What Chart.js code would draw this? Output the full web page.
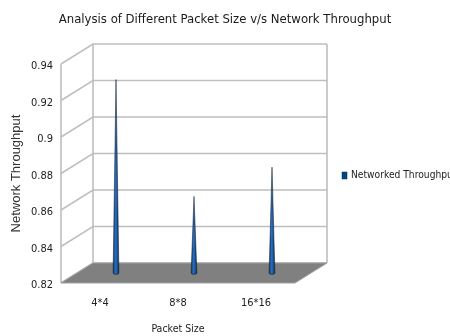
<!DOCTYPE html>
<html>
<head>
<meta charset="utf-8">
<script src="https://cdn.jsdelivr.net/npm/chart.js@4.4.0/dist/chart.umd.min.js"></script>
<style>
  html, body { margin: 0; padding: 0; background: #ffffff; }
  #wrap { width: 450px; height: 336px; }
</style>
</head>
<body>
<div id="wrap"><canvas id="c" width="450" height="336"></canvas></div>
<script>
// Packet sizes tested and the measured throughput for each
const categories = ['4*4', '8*8', '16*16'];
const throughput = [0.926, 0.862, 0.878];
const yTickValues = [0.82, 0.84, 0.86, 0.88, 0.9, 0.92, 0.94];
const yTickLabels = ['0.82', '0.84', '0.86', '0.88', '0.9', '0.92', '0.94'];
const seriesName = 'Networked Throughput';
const seriesColor = '#004586';

const narrow = "'DejaVu Sans Condensed', 'Liberation Sans', sans-serif";
const textColor = '#222222';

// depth offset of the back wall relative to the front plane
const DEPTH = { dx: 32, dy: -20 };

// Draws the pseudo-3D box (back wall, side-wall grid, floor) and cone-shaped bars
const cone3d = {
  id: 'cone3d',
  beforeDatasetsDraw(chart) {
    const { ctx, chartArea: a, scales: { y } } = chart;
    const { dx, dy } = DEPTH;
    ctx.save();
    ctx.fillStyle = '#ffffff';
    ctx.fillRect(a.left + dx, a.top + dy, a.right - a.left, a.bottom - a.top);

    ctx.strokeStyle = '#bfbfbf';
    ctx.lineWidth = 1.6;
    y.ticks.forEach(t => {
      const py = y.getPixelForValue(t.value);
      ctx.beginPath();
      ctx.moveTo(a.left, py);
      ctx.lineTo(a.left + dx, py + dy);
      ctx.lineTo(a.right + dx, py + dy);
      ctx.stroke();
    });
    ctx.beginPath();
    ctx.moveTo(a.left, a.top);
    ctx.lineTo(a.left, a.bottom);
    ctx.moveTo(a.left + dx, a.top + dy);
    ctx.lineTo(a.left + dx, a.bottom + dy);
    ctx.moveTo(a.right + dx, a.top + dy);
    ctx.lineTo(a.right + dx, a.bottom + dy);
    ctx.stroke();

    // floor
    ctx.beginPath();
    ctx.moveTo(a.left, a.bottom);
    ctx.lineTo(a.right, a.bottom);
    ctx.lineTo(a.right + dx, a.bottom + dy);
    ctx.lineTo(a.left + dx, a.bottom + dy);
    ctx.closePath();
    ctx.fillStyle = '#808080';
    ctx.fill();
    ctx.strokeStyle = '#a0a0a0';
    ctx.lineWidth = 1;
    ctx.stroke();
    ctx.restore();
  },
  beforeDatasetDraw(chart, args) {
    const { ctx, scales: { y } } = chart;
    const { dx, dy } = DEPTH;
    const floorPx = y.getPixelForValue(y.min);
    ctx.save();
    args.meta.data.forEach(el => {
      const cx = el.x + dx / 2;
      const tip = el.y + dy / 2;
      const base = floorPx + dy / 2;
      const r = 2.9;
      const g = ctx.createLinearGradient(cx - r, 0, cx + r, 0);
      g.addColorStop(0, '#0b3c73');
      g.addColorStop(0.45, '#2b6fbf');
      g.addColorStop(1, '#003466');
      ctx.beginPath();
      ctx.moveTo(cx, tip);
      ctx.lineTo(cx + r, base);
      ctx.ellipse(cx, base, r, 1.4, 0, 0, Math.PI);
      ctx.closePath();
      ctx.fillStyle = g;
      ctx.fill();
      ctx.strokeStyle = 'rgba(15,20,30,0.85)';
      ctx.lineWidth = 0.6;
      ctx.stroke();
    });
    ctx.restore();
    return false;
  },
  afterDraw(chart) {
    const { ctx, chartArea: a } = chart;
    const ds = chart.data.datasets[0];
    const lx = a.right + DEPTH.dx + 15;
    const ly = (a.top + a.bottom) / 2 + 2;
    ctx.save();
    ctx.fillStyle = ds.backgroundColor;
    ctx.fillRect(lx, ly - 3.5, 5, 7);
    ctx.strokeStyle = '#0a2a50';
    ctx.lineWidth = 0.5;
    ctx.strokeRect(lx, ly - 3.5, 5, 7);
    ctx.font = '10.2px ' + narrow;
    ctx.fillStyle = textColor;
    ctx.textBaseline = 'middle';
    ctx.textAlign = 'left';
    ctx.fillText(ds.label, lx + 9, ly);
    ctx.restore();
  }
};

new Chart(document.getElementById('c'), {
  type: 'bar',
  data: {
    labels: categories,
    datasets: [{
      label: seriesName,
      data: throughput,
      backgroundColor: seriesColor,
      yAxisID: 'y'
    }]
  },
  options: {
    responsive: false,
    animation: false,
    devicePixelRatio: 1,
    layout: { padding: 0 },
    plugins: {
      legend: { display: false },
      tooltip: { enabled: false },
      title: {
        display: true,
        text: 'Analysis of Different Packet Size v/s Network Throughput',
        color: '#1a1a1a',
        font: { family: narrow, size: 13, weight: 'normal' },
        padding: { top: 12, bottom: 36.4 }
      }
    },
    scales: {
      x: {
        type: 'category',
        offset: true,
        grid: { display: false, drawTicks: false },
        border: { display: false },
        ticks: { color: textColor, font: { family: narrow, size: 11 }, padding: 14, maxRotation: 0 },
        title: {
          display: true,
          text: 'Packet Size',
          color: textColor,
          font: { family: narrow, size: 10.5 },
          padding: { top: 0, bottom: 0 }
        },
        afterFit: s => { s.height = 53; }
      },
      y: {
        type: 'linear',
        position: 'left',
        min: yTickValues[0],
        max: yTickValues[yTickValues.length - 1],
        grid: { display: false, drawTicks: false },
        border: { display: false },
        afterBuildTicks: s => { s.ticks = yTickValues.map(v => ({ value: v })); },
        ticks: {
          color: textColor,
          font: { family: narrow, size: 11 },
          padding: 8,
          labelOffset: 2.5,
          callback: (v, i) => yTickLabels[i]
        },
        title: {
          display: true,
          text: 'Network Throughput',
          color: '#333333',
          font: { family: "'Liberation Sans', Arial, sans-serif", size: 13 },
          padding: { top: 9, bottom: 0 }
        },
        afterFit: s => { s.width = 61; }
      },
      // empty axis on the right keeps room for the depth box and the legend
      side: {
        type: 'linear',
        position: 'right',
        grid: { display: false, drawTicks: false },
        border: { display: false },
        ticks: { display: false },
        afterFit: s => { s.width = 155; }
      }
    }
  },
  plugins: [cone3d]
});
</script>
</body>
</html>
